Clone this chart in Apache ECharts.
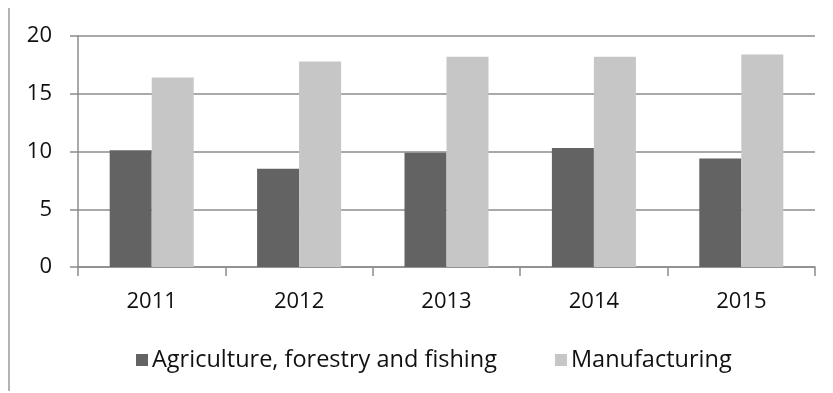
<!DOCTYPE html>
<html>
<head>
<meta charset="utf-8">
<script src="https://cdn.jsdelivr.net/npm/echarts@6/dist/echarts.min.js"></script>
<style>
  html, body { margin: 0; padding: 0; background: #fff; }
  #main { width: 833px; height: 393px; }
</style>
</head>
<body>
<div id="main"></div>
<script>
// data
const years = ['2011', '2012', '2013', '2014', '2015'];
const agriculture = [10.1, 8.5, 9.9, 10.3, 9.4];
const manufacturing = [16.4, 17.8, 18.2, 18.2, 18.4];
const seriesNames = ['Agriculture, forestry and fishing', 'Manufacturing'];

const font = 'Open Sans';
const lineGray = '#8c8c8c';

const chart = echarts.init(document.getElementById('main'));

const option = {
  animation: false,
  textStyle: { fontFamily: font },
  grid: { left: 78, right: 18, top: 36, bottom: 126, containLabel: false },
  legend: {
    left: 131,
    top: 343,
    itemWidth: 12,
    itemHeight: 12,
    itemGap: 58,
    icon: 'rect',
    textStyle: { fontFamily: font, fontSize: 23.5, color: '#111', padding: [0, 0, 0, -1] },
    data: seriesNames
  },
  xAxis: {
    type: 'category',
    data: years,
    axisLine: { lineStyle: { color: lineGray, width: 1.5 } },
    axisTick: { show: true, alignWithLabel: false, length: 9, lineStyle: { color: lineGray, width: 1.5 } },
    axisLabel: { fontFamily: font, fontSize: 22, color: '#111', margin: 24 },
    splitLine: { show: false }
  },
  yAxis: {
    type: 'value',
    min: 0,
    max: 20,
    interval: 5,
    axisLine: { show: true, lineStyle: { color: lineGray, width: 1.5 } },
    axisTick: { show: true, length: 8, lineStyle: { color: lineGray, width: 1.5 } },
    axisLabel: { fontFamily: font, fontSize: 22, color: '#111', margin: 26 },
    splitLine: { show: true, lineStyle: { color: lineGray, width: 1.5 } }
  },
  series: [
    {
      name: seriesNames[0],
      type: 'bar',
      data: agriculture,
      barWidth: '28.5%',
      barGap: '0%',
      itemStyle: { color: '#636363' }
    },
    {
      name: seriesNames[1],
      type: 'bar',
      data: manufacturing,
      barWidth: '28.5%',
      barGap: '0%',
      itemStyle: { color: '#c6c6c6' }
    }
  ],
  graphic: [
    {
      // left edge of the surrounding frame
      type: 'line',
      shape: { x1: 9, y1: 8, x2: 9, y2: 391 },
      style: { stroke: '#9a9a9a', lineWidth: 1.5 }
    }
  ]
};

chart.setOption(option);
</script>
</body>
</html>
